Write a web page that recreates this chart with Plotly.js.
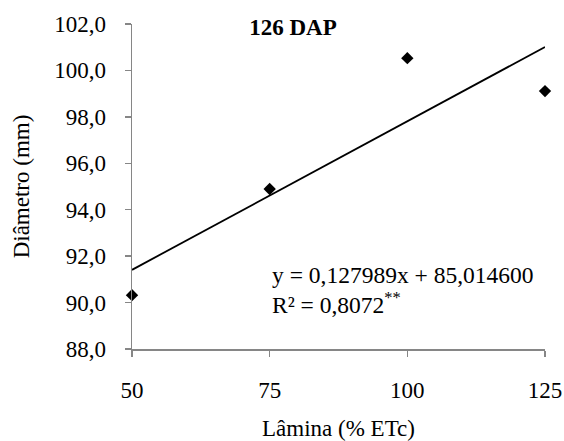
<!DOCTYPE html>
<html>
<head>
<meta charset="utf-8">
<script src="https://cdn.plot.ly/plotly-3.0.1.min.js"></script>
<style>html,body{margin:0;padding:0;background:#fff}#chart{width:564px;height:441px}</style>
</head>
<body>
<div id="chart"></div>
<script>
// Data
const laminas = [50, 75, 100, 125];
const diametro = [90.32, 94.89, 100.53, 99.11];
const trendX = [50, 125];
const trendY = [91.41, 101.01];
const xTicks = [50, 75, 100, 125];
const yTicks = [88, 90, 92, 94, 96, 98, 100, 102];
const chartTitle = '126 DAP';
const eqLine = 'y = 0,127989x + 85,014600';
const r2Line = 'R² = 0,8072<sup>**</sup>';

const font = '"Liberation Serif"';
const axisColor = '#868686';

const traces = [
  {x: trendX, y: trendY, type: 'scatter', mode: 'lines',
   line: {color: '#000', width: 1.8}, hoverinfo: 'skip', showlegend: false, cliponaxis: false},
  {x: laminas, y: diametro, type: 'scatter', mode: 'markers',
   marker: {symbol: 'diamond', size: 9.5, color: '#000'}, showlegend: false, cliponaxis: false}
];

const layout = {
  width: 564, height: 441,
  margin: {l: 132, r: 19, t: 24, b: 92, pad: 0},
  paper_bgcolor: '#fff', plot_bgcolor: '#fff',
  separators: ',.',
  font: {family: font, size: 23, color: '#000'},
  showlegend: false,
  title: {text: '<b>' + chartTitle + '</b>', x: 293/564, xanchor: 'center', y: 1 - 27/441, yanchor: 'middle',
          font: {family: font, size: 23, color: '#000'}},
  xaxis: {range: [50, 125], tickvals: xTicks, ticktext: xTicks.map(String),
          showgrid: false, zeroline: false, showline: true, linecolor: axisColor, linewidth: 1.5,
          ticks: 'outside', ticklen: 6, tickcolor: axisColor, tickwidth: 1.5,
          ticklabelstandoff: 14,
          tickfont: {family: font, size: 23, color: '#000'},
          title: {text: 'Lâmina (% ETc)', standoff: 20, font: {family: font, size: 23, color: '#000'}}},
  yaxis: {range: [88, 102], tickvals: yTicks, tickformat: '.1f',
          showgrid: false, zeroline: false, showline: true, linecolor: axisColor, linewidth: 1.5,
          ticks: 'outside', ticklen: 6, tickcolor: axisColor, tickwidth: 1.5,
          ticklabelstandoff: 14,
          tickfont: {family: font, size: 23, color: '#000'},
          title: {text: 'Diâmetro (mm)', standoff: 18, font: {family: font, size: 23, color: '#000'}}},
  annotations: [
    {text: eqLine, xref: 'paper', yref: 'paper', x: (270-132)/413, y: (349-275)/325,
     xanchor: 'left', yanchor: 'middle', showarrow: false, font: {family: font, size: 23.5, color: '#000'}},
    {text: r2Line, xref: 'paper', yref: 'paper', x: (270-132)/413, y: (349-303)/325,
     xanchor: 'left', yanchor: 'middle', showarrow: false, font: {family: font, size: 23.5, color: '#000'}}
  ]
};

Plotly.newPlot('chart', traces, layout, {displayModeBar: false, staticPlot: true});
</script>
</body>
</html>
